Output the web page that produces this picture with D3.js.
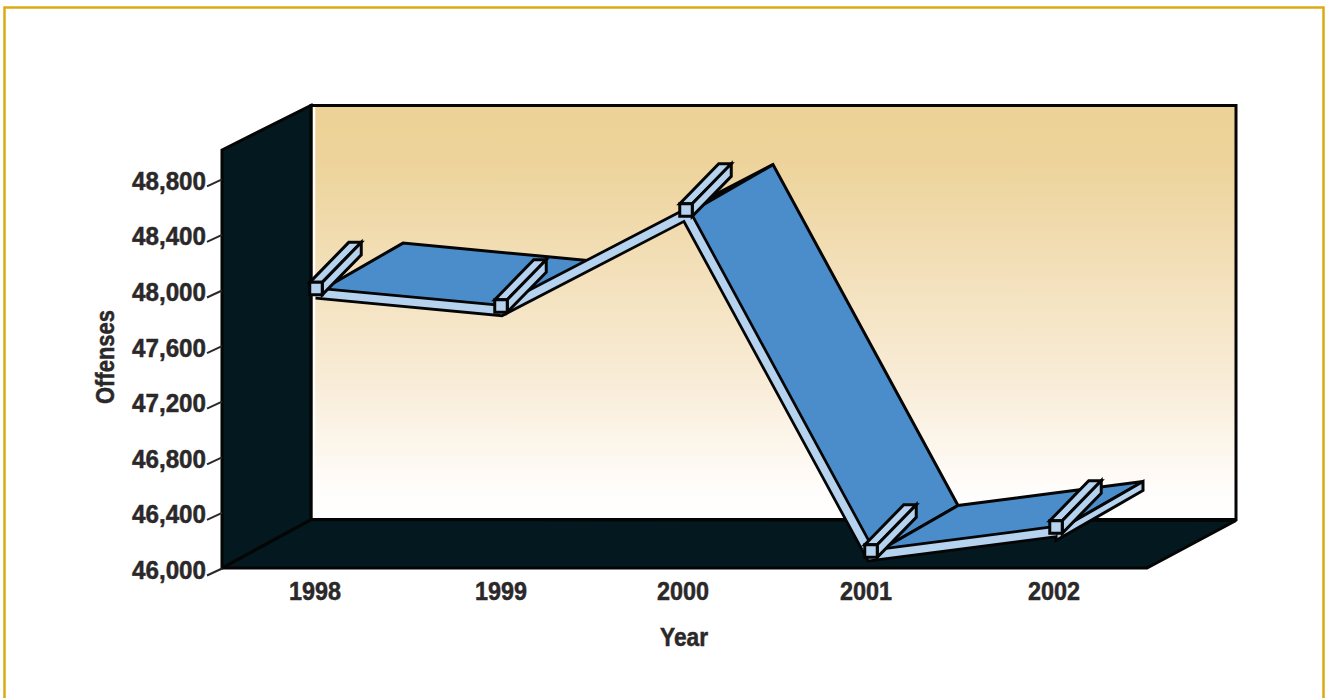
<!DOCTYPE html>
<html>
<head>
<meta charset="utf-8">
<script src="https://cdn.jsdelivr.net/npm/d3@7"></script>
<style>
  html, body { margin: 0; padding: 0; background: #fff; overflow: hidden; }
  text { font-family: "Liberation Sans", sans-serif; font-weight: bold; fill: #2b2829; font-size: 26px;
         stroke: #2b2829; stroke-width: 0.5px; }
</style>
</head>
<body>
<div id="chart"></div>
<script>
const years = ["1998", "1999", "2000", "2001", "2002"];
const offenses = [48010, 47885, 48575, 46122, 46295];
const tickValues = [46000, 46400, 46800, 47200, 47600, 48000, 48400, 48800];

const width = 1325, height = 698;
const ink = "#050505", lightBlue = "#b5d3ef", blue = "#4b8dcb", dark = "#03181f";
const ribbonDepth = [87, -50], barDepth = [39, -40];
const lineDrop = 4.5, box = 12.5;

const svg = d3.select("#chart").append("svg")
    .attr("width", width).attr("height", height)
    .style("display", "block");

// gold page border, open at the bottom
svg.append("path")
    .attr("d", "M4.5,698V7.5H1323.5V698")
    .attr("fill", "none").attr("stroke", "#dcaa12").attr("stroke-width", 2.5);

const x = d3.scaleBand().domain(years).range([223.5, 1148.5]);
const y = d3.scaleLinear().domain([46000, 49000]).range([568, 151]);
const cx = d => x(d) + x.bandwidth() / 2;

const grad = svg.append("defs").append("linearGradient")
    .attr("id", "wallFill").attr("x1", 0).attr("x2", 0).attr("y1", 0).attr("y2", 1);
[[0, "#edd296"], [0.13, "#edd39a"], [0.4, "#f3e0ba"], [0.7, "#f9eedb"], [0.93, "#fffdfb"], [1, "#ffffff"]]
    .forEach(s => grad.append("stop").attr("offset", s[0]).attr("stop-color", s[1]));

const poly = (pts, fill) => svg.append("path")
    .attr("d", d3.line()(pts) + "Z")
    .attr("fill", fill).attr("stroke", ink)
    .attr("stroke-width", 3).attr("stroke-linejoin", "miter");

// walls
const xl = 222, xr = 1147, xb = 311, xbr = 1236, yf = 568, yfb = 519.5, yt = 150, ytb = 105.5;
svg.append("rect").attr("x", xb).attr("y", ytb)
    .attr("width", xbr - xb).attr("height", yfb - ytb)
    .attr("fill", "url(#wallFill)").attr("stroke", ink).attr("stroke-width", 3);
svg.append("line").attr("x1", xb + 3).attr("x2", xb + 3)
    .attr("y1", ytb + 1.5).attr("y2", yfb - 1)
    .attr("stroke", "#fff").attr("stroke-width", 2.5);
poly([[xl, yf], [xb, yfb], [xbr, yfb + 1], [xr, yf]], dark);
poly([[xl, yt], [xb, ytb], [xb, yfb], [xl, yf]], dark);

// ribbon: blue top surfaces, then a thick outlined line as the front face
const pts = years.map((d, i) => [cx(d), y(offenses[i]) + lineDrop]);
const back = p => [p[0] + ribbonDepth[0], p[1] + ribbonDepth[1]];

d3.pairs(pts).forEach(([a, b]) => poly([a, b, back(b), back(a)], blue));

const last = pts[pts.length - 1];
const lastLow = [last[0], last[1] + 9];
poly([last, back(last), back(lastLow), lastLow], lightBlue);

const frontLine = d3.line()(pts);
svg.append("path").attr("d", frontLine).attr("fill", "none")
    .attr("stroke", ink).attr("stroke-width", 13).attr("stroke-linejoin", "miter").attr("stroke-miterlimit", 10);
svg.append("path").attr("d", frontLine).attr("fill", "none")
    .attr("stroke", lightBlue).attr("stroke-width", 7.5).attr("stroke-linejoin", "miter").attr("stroke-miterlimit", 10);

// marker boxes
years.forEach((d, i) => {
  const l = cx(d) - box / 2, r = l + box, t = y(offenses[i]) - box / 2, b = t + box;
  const [dx, dy] = barDepth;
  poly([[l, t], [r, t], [r + dx, t + dy], [l + dx, t + dy]], lightBlue);
  poly([[r, t], [r + dx, t + dy], [r + dx, b + dy], [r, b]], lightBlue);
  poly([[l, t], [r, t], [r, b], [l, b]], lightBlue);
});

// y axis, slanted ticks against the side wall
const yAxis = d3.axisLeft(y).tickValues(tickValues).tickFormat(d3.format(",")).tickSizeOuter(0);
const gy = svg.append("g").attr("transform", `translate(${xl},0)`).call(yAxis);
gy.select(".domain").remove();
gy.selectAll(".tick line").attr("x2", -15).attr("y2", 7).attr("stroke", "#2b2829").attr("stroke-width", 2);
gy.selectAll(".tick text").attr("x", -16).attr("dy", 10.5)
    .style("font-size", "26px").style("font-family", "Liberation Sans")
    .attr("textLength", 74).attr("lengthAdjust", "spacingAndGlyphs");

// x axis labels
const xLabelX = [315, 501, 683, 866, 1054];
svg.selectAll(".xlab").data(years).join("text")
    .attr("class", "xlab")
    .attr("x", (d, i) => xLabelX[i]).attr("y", 600)
    .attr("text-anchor", "middle")
    .attr("textLength", 52).attr("lengthAdjust", "spacingAndGlyphs")
    .text(d => d);

svg.append("text").attr("x", 684).attr("y", 646).attr("text-anchor", "middle")
    .attr("textLength", 48).attr("lengthAdjust", "spacingAndGlyphs").text("Year");
svg.append("text").attr("transform", "translate(114,357) rotate(-90)").attr("text-anchor", "middle")
    .attr("textLength", 94).attr("lengthAdjust", "spacingAndGlyphs").text("Offenses");
</script>
</body>
</html>
